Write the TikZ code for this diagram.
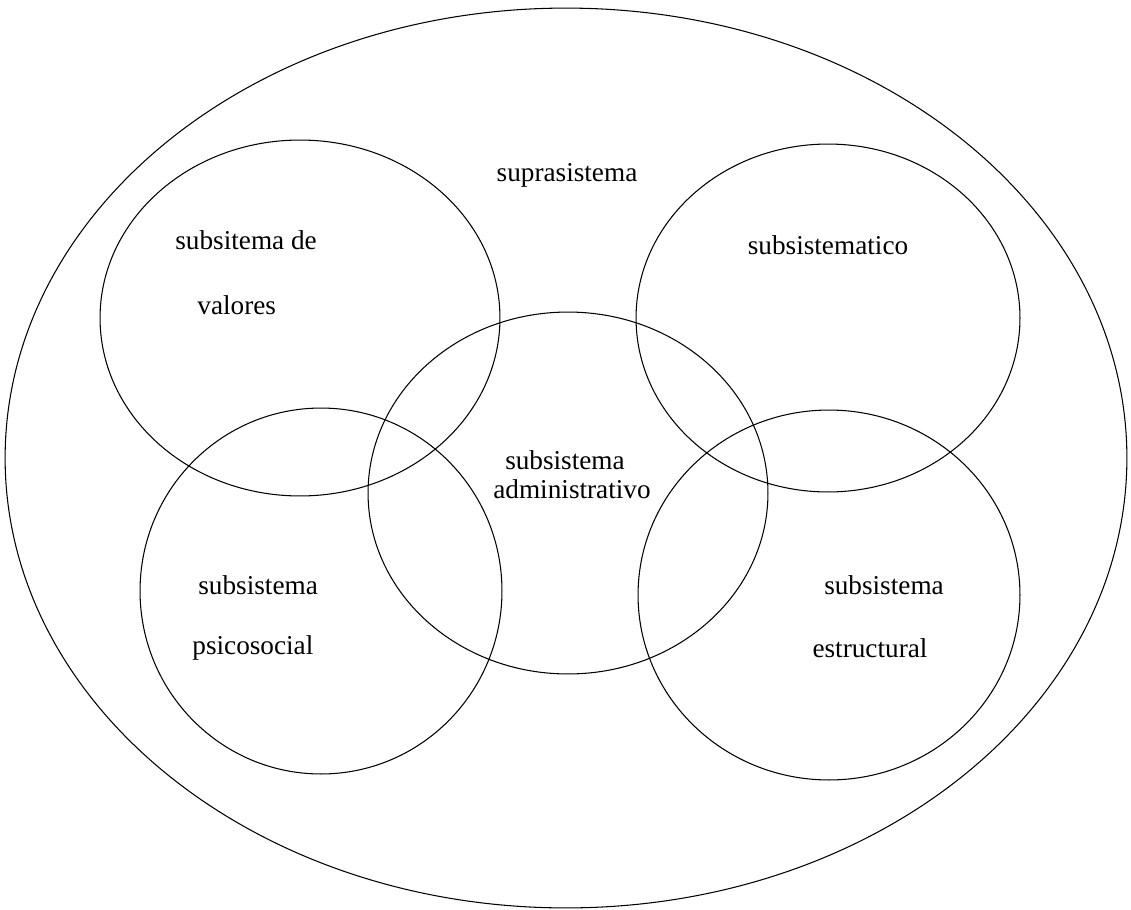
\documentclass[tikz,border=0pt]{standalone}
\usepackage{fontspec}
\setmainfont{Liberation Serif}
\begin{document}
\begin{tikzpicture}[x=0.02cm, y=-0.02cm, line width=0.6pt, font=\fontsize{15.5}{18}\selectfont]
			\useasboundingbox (0,0) rectangle (1131,909);
			\draw (566,458) ellipse [x radius=11.22cm, y radius=9cm];
			\draw (300,318) ellipse [x radius=4cm, y radius=3.56cm];
			\draw (828,318) ellipse [x radius=3.84cm, y radius=3.48cm];
			\draw (568,493) ellipse [x radius=4cm, y radius=3.62cm];
			\draw (321,591) ellipse [x radius=3.62cm, y radius=3.66cm];
			\draw (829,595) ellipse [x radius=3.82cm, y radius=3.7cm];
			%===
			\node (supra) at (567,175) {suprasistema};
			\node[anchor=west] (valA) at (169,240) {subsitema de};
			\node[anchor=west] (valB) at (191,305) {valores};
			\node (tema) at (828,245) {subsistematico};
			\node (admA) at (565,460) {subsistema};
			\node (admB) at (572,489) {administrativo};
			\node[anchor=west] (psiA) at (192,585) {subsistema};
			\node[anchor=west] (psiB) at (186,648) {psicosocial};
			\node (estA) at (884,585) {subsistema};
			\node (estB) at (870,648) {estructural};
		\end{tikzpicture}
\end{document}
